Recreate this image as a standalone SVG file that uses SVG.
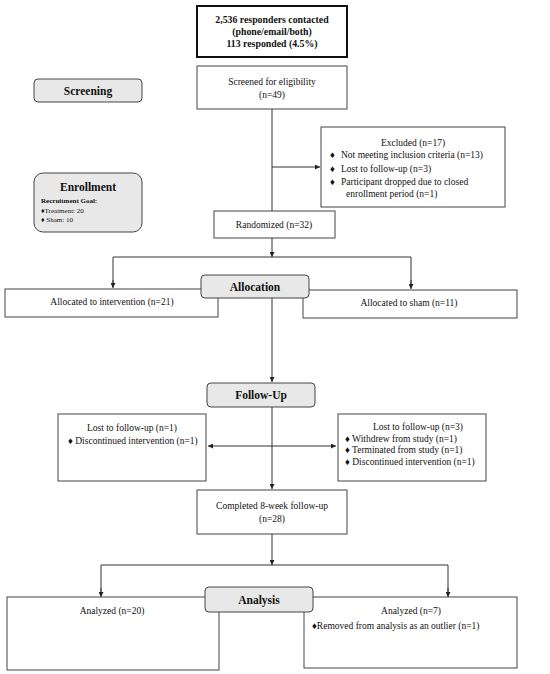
<svg xmlns="http://www.w3.org/2000/svg" width="550" height="674" viewBox="0 0 550 674">
<style>
text{font-family:"Liberation Serif","Times New Roman",serif;fill:#111}
.t{font-size:9.5px}
.c{text-anchor:middle}
.b{font-weight:bold}
.box{fill:#fff;stroke:#444;stroke-width:1}
.stage{fill:#e8e8e8;stroke:#444;stroke-width:1}
.ln{fill:none;stroke:#333;stroke-width:1}
</style>
<defs>
<marker id="ah" viewBox="0 0 10 10" refX="10" refY="5" markerWidth="5" markerHeight="5" orient="auto-start-reverse">
<path d="M0,0 L10,5 L0,10 z" fill="#222"/>
</marker>
</defs>
<rect width="550" height="674" fill="#fff"/>
<g id="connectors">
<line class="ln" x1="272" y1="109" x2="272" y2="211"/>
<line class="ln" x1="272" y1="167" x2="320" y2="167" marker-end="url(#ah)"/>
<line class="ln" x1="272" y1="238" x2="272" y2="257" marker-end="url(#ah)"/>
<polyline class="ln" points="113,287 113,257 411,257 411,287"/>
<line class="ln" x1="113" y1="280" x2="113" y2="288" marker-end="url(#ah)"/>
<line class="ln" x1="411" y1="280" x2="411" y2="289" marker-end="url(#ah)"/>
<line class="ln" x1="272" y1="298" x2="272" y2="382" marker-end="url(#ah)"/>
<line class="ln" x1="272" y1="407" x2="272" y2="489" marker-end="url(#ah)"/>
<line class="ln" x1="208" y1="446" x2="336" y2="446" marker-start="url(#ah)" marker-end="url(#ah)"/>
<line class="ln" x1="272" y1="534" x2="272" y2="565" marker-end="url(#ah)"/>
<polyline class="ln" points="101,596 101,565 448,565 448,596"/>
<line class="ln" x1="101" y1="588" x2="101" y2="597" marker-end="url(#ah)"/>
<line class="ln" x1="448" y1="588" x2="448" y2="597" marker-end="url(#ah)"/>
</g>
<g id="contacted">
<rect x="197" y="6" width="150" height="51" fill="#fff" stroke="#111" stroke-width="2"/>
<text class="c b" x="272" y="23" font-size="9.8">2,536 responders contacted</text>
<text class="c b" x="272" y="35" font-size="9.8">(phone/email/both)</text>
<text class="c b" x="272" y="47" font-size="9.8">113 responded (4.5%)</text>
</g>
<g id="screening">
<rect class="stage" x="34" y="79" width="108" height="23" rx="4"/>
<text class="c b" x="88" y="95" font-size="11.5">Screening</text>
</g>
<g id="screened">
<rect class="box" x="197" y="66" width="150" height="43"/>
<text class="t c" x="272" y="85">Screened for eligibility</text>
<text class="t c" x="272" y="98">(n=49)</text>
</g>
<g id="excluded">
<rect class="box" x="321" y="127" width="184" height="80"/>
<text class="t c" x="413" y="146">Excluded (n=17)</text>
<text class="t" x="330" y="158">♦</text>
<text class="t" x="341" y="158">Not meeting inclusion criteria (n=13)</text>
<text class="t" x="330" y="172">♦</text>
<text class="t" x="341" y="172">Lost to follow-up (n=3)</text>
<text class="t" x="330" y="185">♦</text>
<text class="t" x="341" y="185">Participant dropped due to closed</text>
<text class="t" x="346" y="197">enrollment period (n=1)</text>
</g>
<g id="enrollment">
<rect class="stage" x="34" y="173" width="108" height="59" rx="9"/>
<text class="c b" x="88" y="191" font-size="11.5">Enrollment</text>
<text class="b" x="41" y="203" font-size="7">Recruitment Goal:</text>
<text x="41" y="213" font-size="7">♦Treatment: 20</text>
<text x="41" y="222" font-size="7">♦ Sham: 10</text>
</g>
<g id="randomized">
<rect class="box" x="214" y="211" width="121" height="27"/>
<text class="t c" x="274" y="228">Randomized (n=32)</text>
</g>
<g id="alloc-int">
<rect class="box" x="5" y="289" width="213" height="28"/>
<text class="t c" x="112" y="305">Allocated to intervention (n=21)</text>
</g>
<g id="alloc-sham">
<rect class="box" x="303" y="290" width="214" height="28"/>
<text class="t c" x="409" y="306">Allocated to sham (n=11)</text>
</g>
<g id="allocation">
<rect class="stage" x="201" y="275" width="108" height="23" rx="4"/>
<text class="c b" x="255" y="291" font-size="11.5">Allocation</text>
</g>
<g id="followup">
<rect class="stage" x="207" y="383" width="108" height="24" rx="4"/>
<text class="c b" x="261" y="399" font-size="11.5">Follow-Up</text>
</g>
<g id="lost-left">
<rect class="box" x="58" y="414" width="148" height="67"/>
<text class="t c" x="132" y="431">Lost to follow-up (n=1)</text>
<text class="t" x="68" y="444">♦ Discontinued intervention (n=1)</text>
</g>
<g id="lost-right">
<rect class="box" x="338" y="414" width="148" height="67"/>
<text class="t c" x="418" y="430">Lost to follow-up (n=3)</text>
<text class="t" x="345" y="442">♦ Withdrew from study (n=1)</text>
<text class="t" x="345" y="453">♦ Terminated from study (n=1)</text>
<text class="t" x="345" y="465">♦ Discontinued intervention (n=1)</text>
</g>
<g id="completed">
<rect class="box" x="197" y="490" width="150" height="44"/>
<text class="t c" x="272" y="509">Completed 8-week follow-up</text>
<text class="t c" x="272" y="522">(n=28)</text>
</g>
<g id="analyzed-left">
<rect class="box" x="7" y="597" width="212" height="73"/>
<text class="t c" x="112" y="614">Analyzed (n=20)</text>
</g>
<g id="analyzed-right">
<rect class="box" x="304" y="597" width="213" height="71"/>
<text class="t c" x="411" y="614">Analyzed (n=7)</text>
<text class="t" x="312" y="629">♦Removed from analysis as an outlier (n=1)</text>
</g>
<g id="analysis">
<rect class="stage" x="205" y="587" width="108" height="25" rx="4"/>
<text class="c b" x="259" y="604" font-size="11.5">Analysis</text>
</g>
</svg>
